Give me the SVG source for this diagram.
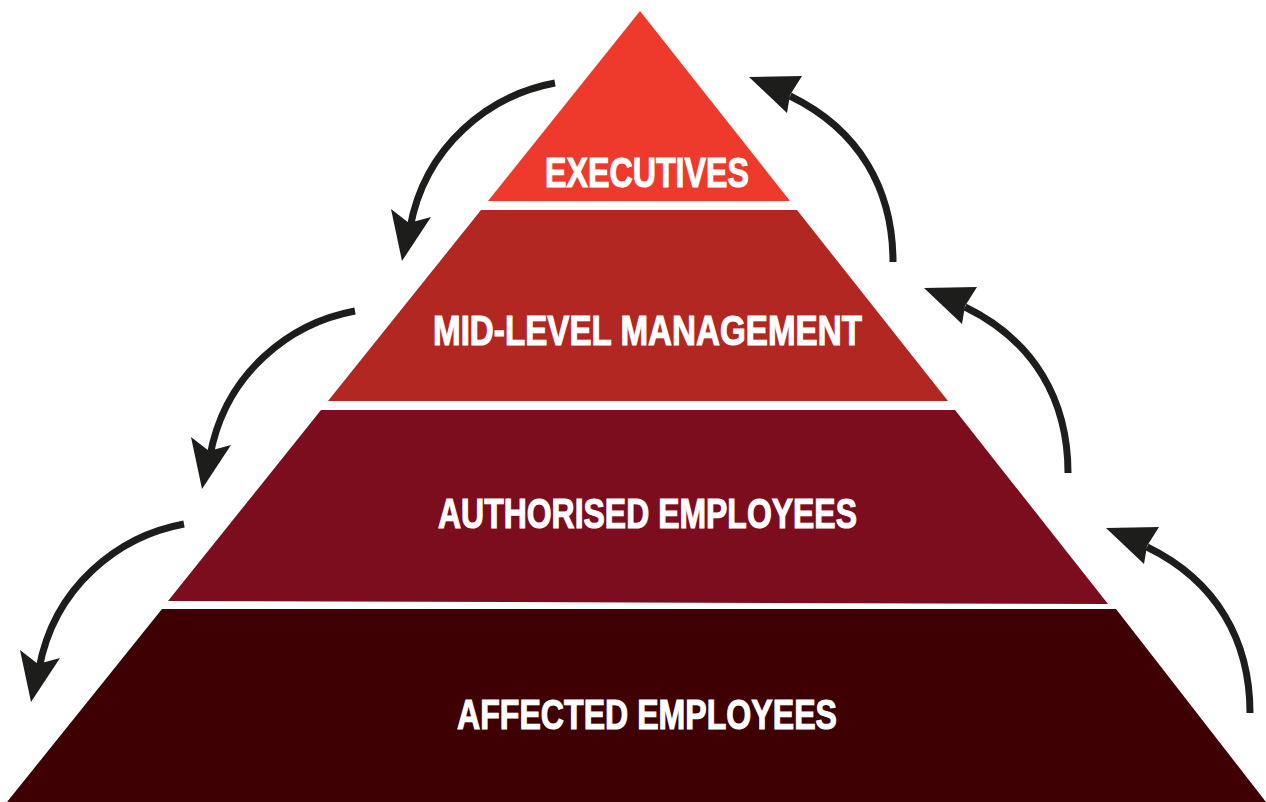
<svg xmlns="http://www.w3.org/2000/svg" xmlns:xlink="http://www.w3.org/1999/xlink" width="1266" height="802" viewBox="0 0 1266 802">
  <style>
    .lbl { font-family: "Liberation Sans", Arial, sans-serif; font-weight: bold; font-size: 42px; fill: #ffffff; stroke: #ffffff; stroke-width: 1.1; }
    .shaft { fill: none; stroke: #1d1d1b; stroke-width: 7; }
    .head { fill: #1d1d1b; }
  </style>
  <defs>
    <g id="arrowDown">
      <path class="shaft" d="M0,0 C-65,12 -130,62 -145,145"/>
      <path class="head" d="M-153,178 L-164,126 L-146,140 L-124,134 Z"/>
    </g>
    <g id="arrowUp">
      <path class="shaft" d="M0,0 C0,-72 -33,-132 -103,-166"/>
      <path class="head" d="M-144,-185 L-91,-186 L-103,-167 L-106,-149 Z"/>
    </g>
  </defs>
  <rect width="1266" height="802" fill="#ffffff"/>

  <g id="tier-executives">
    <polygon points="640,11 790,201 488,201" fill="#EE3A2C"/>
    <text class="lbl" x="545" y="187" textLength="204" lengthAdjust="spacingAndGlyphs">EXECUTIVES</text>
  </g>
  <g id="tier-mid-level-management">
    <polygon points="481,210 797,210 948,401 328,401" fill="#B22722"/>
    <text class="lbl" x="433" y="345" textLength="429" lengthAdjust="spacingAndGlyphs">MID-LEVEL MANAGEMENT</text>
  </g>
  <g id="tier-authorised-employees">
    <polygon points="321,410 955,410 1108,604 168,601" fill="#7C0D1F"/>
    <text class="lbl" x="438" y="528" textLength="419" lengthAdjust="spacingAndGlyphs">AUTHORISED EMPLOYEES</text>
  </g>
  <g id="tier-affected-employees">
    <polygon points="162,609 1116,609 1266,802 7,802" fill="#3F0003"/>
    <text class="lbl" x="457" y="729" textLength="380" lengthAdjust="spacingAndGlyphs">AFFECTED EMPLOYEES</text>
  </g>

  <g id="connectors">
    <use xlink:href="#arrowDown" transform="translate(555,83)"/>
    <use xlink:href="#arrowDown" transform="translate(355,311)"/>
    <use xlink:href="#arrowDown" transform="translate(184,524)"/>
    <use xlink:href="#arrowUp" transform="translate(893,262)"/>
    <use xlink:href="#arrowUp" transform="translate(1068,473)"/>
    <use xlink:href="#arrowUp" transform="translate(1250,713)"/>
  </g>
</svg>
